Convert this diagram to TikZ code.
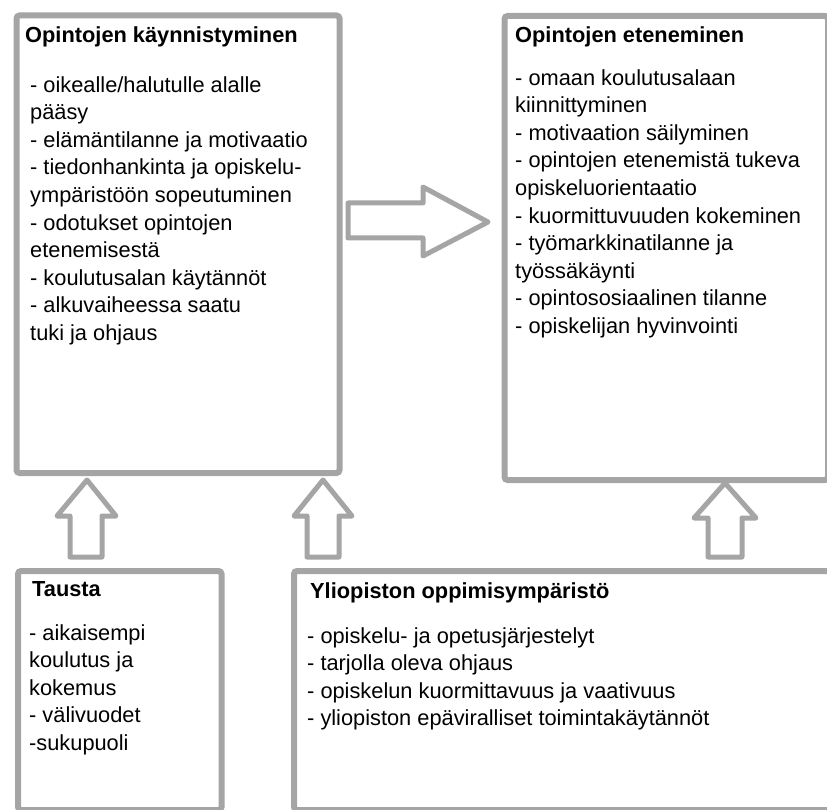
\documentclass[tikz,border=0pt]{standalone}
\usepackage{fontspec}
\setmainfont{Liberation Sans}
\definecolor{framegray}{RGB}{165,165,165}
\begin{document}
\begin{tikzpicture}[x=1pt,y=-1pt,
  frame/.style={draw=framegray, line width=6pt, rounded corners=3pt,
    rectangle, anchor=north west, inner sep=0pt},
  blockarrow/.style={draw=framegray, line width=5pt, line join=round, fill=white},
  heading/.style={anchor=base west, inner sep=0pt,
    font=\bfseries\fontsize{21.8}{27.6}\selectfont},
  % multi-line lists are placed by the baseline of their last line
  items/.style={anchor=base west, inner sep=0pt, align=left,
    font=\fontsize{21.8}{27.6}\selectfont}]
\useasboundingbox (0,0) rectangle (827,810);

% boxes
\node[frame, minimum width=323pt, minimum height=457.5pt] (start) at (13.5,12.5) {};
\node[frame, minimum width=323.5pt, minimum height=464pt] (progress) at (501.5,13) {};
\node[frame, minimum width=203.5pt, minimum height=239pt] (background) at (15,568) {};
\node[frame, minimum width=549pt, minimum height=239pt] (university) at (291,568) {};

% block arrows
\draw[blockarrow] (348,203) -- (423,203) -- (423,187) -- (488,222)
  -- (423,256) -- (423,238) -- (348,238) -- cycle;
\draw[blockarrow] (70,557) -- (70,516) -- (57,516) -- (87,480)
  -- (116,516) -- (102,516) -- (102,557) -- cycle;
\draw[blockarrow] (307,557) -- (307,516) -- (294,516) -- (323,480)
  -- (352,516) -- (339,516) -- (339,557) -- cycle;
\draw[blockarrow] (708,557) -- (708,518) -- (694,518) -- (725,483)
  -- (756,518) -- (742,518) -- (742,557) -- cycle;

% texts
\node[heading] (startT) at (25,43) {Opintojen käynnistyminen};
\node[items] (startL) at (30,340.4) {- oikealle/halutulle alalle\\
pääsy\\
- elämäntilanne ja motivaatio\\
- tiedonhankinta ja opiskelu-\\
ympäristöön sopeutuminen\\
- odotukset opintojen\\
etenemisestä\\
- koulutusalan käytännöt\\
- alkuvaiheessa saatu\\
tuki ja ohjaus};

\node[heading] (progressT) at (515,43) {Opintojen eteneminen};
\node[items] (progressL) at (515,333.5) {- omaan koulutusalaan\\
kiinnittyminen\\
- motivaation säilyminen\\
- opintojen etenemistä tukeva\\
opiskeluorientaatio\\
- kuormittuvuuden kokeminen\\
- työmarkkinatilanne ja\\
työssäkäynti\\
- opintososiaalinen tilanne\\
- opiskelijan hyvinvointi};

\node[heading] (backgroundT) at (32,596) {Tausta};
\node[items] (backgroundL) at (29,750.4) {- aikaisempi\\
koulutus ja\\
kokemus\\
- välivuodet\\
-sukupuoli};

\node[heading] (universityT) at (310,598) {Yliopiston oppimisympäristö};
\node[items] (universityL) at (307,725.8) {- opiskelu- ja opetusjärjestelyt\\
- tarjolla oleva ohjaus\\
- opiskelun kuormittavuus ja vaativuus\\
- yliopiston epäviralliset toimintakäytännöt};
\end{tikzpicture}
\end{document}
